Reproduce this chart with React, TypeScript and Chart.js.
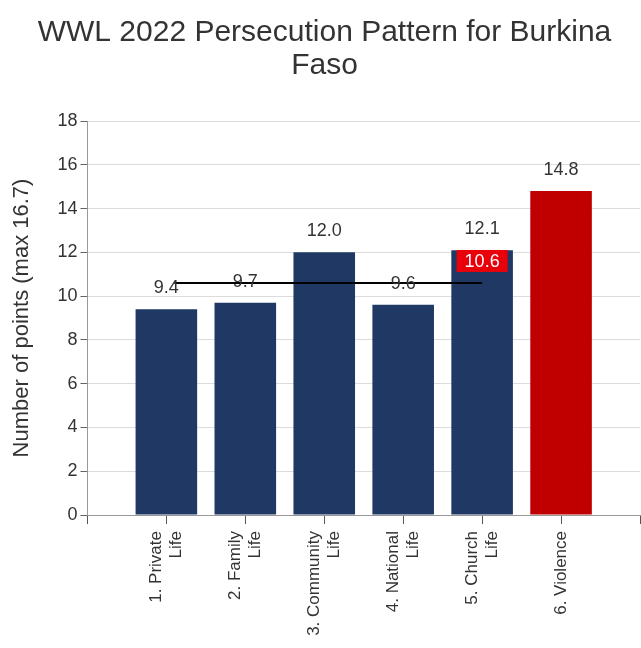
import React, { useEffect, useRef } from 'react';
import { Chart, registerables } from 'chart.js';

Chart.register(...registerables);

const FONT = "'Liberation Sans', Arial, sans-serif";

const titleLines = ['WWL 2022 Persecution Pattern for Burkina', 'Faso'];
const yAxisTitle = 'Number of points (max 16.7)';
const categories: string[][] = [
  ['1. Private', 'Life'],
  ['2. Family', 'Life'],
  ['3. Community', 'Life'],
  ['4. National', 'Life'],
  ['5. Church', 'Life'],
  ['6. Violence'],
];
const scores = [9.4, 9.7, 12.0, 9.6, 12.1, 14.8];
const barColors = ['#1f3864', '#1f3864', '#1f3864', '#1f3864', '#1f3864', '#c00000'];
const averageScore = 10.6;
const averageSpan = [1.1, 5];
const yMin = 0;
const yMax = 18;
const yStep = 2;

const labelsPlugin = {
  id: 'customLabels',
  afterDatasetsDraw(chart: any) {
    const ctx = chart.ctx;
    const xs = chart.scales.x;
    const ys = chart.scales.y;
    const meta = chart.getDatasetMeta(1);
    ctx.save();
    ctx.font = `18px ${FONT}`;
    ctx.fillStyle = '#333333';
    ctx.textAlign = 'center';
    ctx.textBaseline = 'middle';
    meta.data.forEach((bar: any, i: number) => {
      ctx.fillText(scores[i].toFixed(1), bar.x, bar.y - 21);
    });
    const ax = xs.getPixelForValue(averageSpan[1]);
    const ay = ys.getPixelForValue(averageScore);
    const txt = averageScore.toFixed(1);
    const w = ctx.measureText(txt).width + 16;
    const h = 22;
    ctx.fillStyle = '#e8000b';
    ctx.fillRect(ax - w / 2, ay - 11 - h, w, h);
    ctx.fillStyle = '#ffffff';
    ctx.fillText(txt, ax, ay - 11 - h / 2 + 1);
    ctx.restore();
  },
  afterDraw(chart: any) {
    const ctx = chart.ctx;
    const xs = chart.scales.x;
    const top = xs.bottom + 7;
    ctx.save();
    ctx.font = `17px ${FONT}`;
    ctx.fillStyle = '#333333';
    ctx.textAlign = 'right';
    ctx.textBaseline = 'middle';
    const lh = 20;
    categories.forEach((lines, i) => {
      const cx = xs.getPixelForValue(i + 1);
      lines.forEach((line, j) => {
        const x = cx + (j - (lines.length - 1) / 2) * lh;
        ctx.save();
        ctx.translate(x, top);
        ctx.rotate(-Math.PI / 2);
        ctx.fillText(line, 0, 0);
        ctx.restore();
      });
    });
    ctx.restore();
  },
};

export default function App() {
  const ref = useRef<HTMLCanvasElement>(null);
  useEffect(() => {
    if (!ref.current) return;
    const chart = new Chart(ref.current, {
      type: 'bar',
      data: {
        datasets: [
          {
            type: 'line',
            data: averageSpan.map((x) => ({ x, y: averageScore })),
            borderColor: '#000000',
            borderWidth: 2,
            pointRadius: 0,
            order: 0,
          } as any,
          {
            type: 'bar',
            data: scores.map((y, i) => ({ x: i + 1, y })),
            backgroundColor: barColors,
            barPercentage: 0.78,
            categoryPercentage: 1,
            order: 1,
          } as any,
        ],
      },
      options: {
        responsive: false,
        animation: false,
        devicePixelRatio: 1,
        layout: { padding: { left: 9, right: 1, top: 0, bottom: 124 } },
        plugins: {
          legend: { display: false },
          tooltip: { enabled: false },
          title: {
            display: true,
            text: titleLines,
            color: '#333333',
            font: { family: FONT, size: 30, weight: 'normal', lineHeight: 1.1 },
            padding: { top: 16, bottom: 39 },
          },
        },
        scales: {
          x: {
            type: 'linear',
            offset: false,
            min: 0,
            max: 7,
            ticks: { display: false, stepSize: 1 },
            grid: { offset: false, drawOnChartArea: false, drawTicks: true, tickLength: 9, tickColor: '#555555' },
            border: { color: '#999999', width: 1 },
          },
          y: {
            min: yMin,
            max: yMax,
            ticks: {
              stepSize: yStep,
              color: '#333333',
              padding: 3,
              font: { family: FONT, size: 18 },
            },
            grid: { color: '#dcdcdc', tickLength: 7, tickColor: '#666666' },
            border: { color: '#999999', width: 1 },
            title: {
              display: true,
              text: yAxisTitle,
              color: '#333333',
              font: { family: FONT, size: 22 },
              padding: { top: 0, bottom: 19 },
            },
          },
        },
      },
      plugins: [labelsPlugin],
    });
    return () => chart.destroy();
  }, []);
  return (
    <div style={{ position: 'absolute', left: 0, top: 0, width: 641, height: 648, background: '#fff' }}>
      <canvas ref={ref} width={641} height={648} />
    </div>
  );
}
